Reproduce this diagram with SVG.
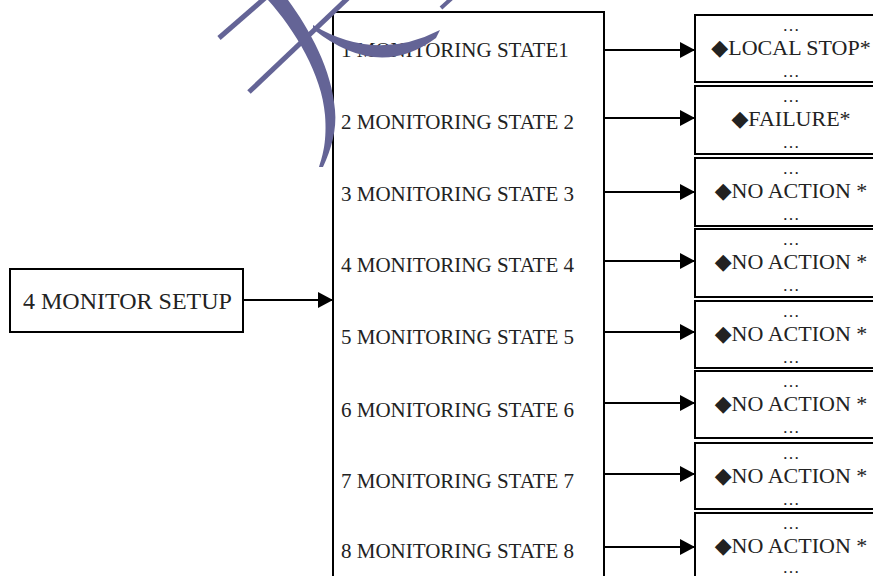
<svg xmlns="http://www.w3.org/2000/svg" width="873" height="576" viewBox="0 0 873 576">
<style>
.box{fill:#fff;stroke:#000;stroke-width:2}
text{font-family:'Liberation Serif','DejaVu Serif',serif;fill:#222}
.lbl{font-size:21px}
.act{font-size:22px;text-anchor:middle}
.dot{font-size:17px;text-anchor:middle}
.con{stroke:#000;stroke-width:2;fill:none}
.wm{fill:#646496}
</style>
<defs>
<marker id="ah" markerWidth="15" markerHeight="16" refX="15" refY="8" orient="auto" markerUnits="userSpaceOnUse">
<path d="M0,0 L15,8 L0,16 Z" fill="#000"/>
</marker>
</defs>
<rect width="873" height="576" fill="#fff"/>

<g id="setup">
<rect class="box" x="10" y="269" width="233" height="63" stroke-width="1.5"/>
<text x="23" y="309" font-size="24">4 MONITOR SETUP</text>
</g>

<g id="states">
<rect class="box" x="333" y="12" width="271" height="580"/>
<text class="lbl" x="341" y="57">1 MONITORING STATE1</text>
<text class="lbl" x="341" y="129">2 MONITORING STATE 2</text>
<text class="lbl" x="341" y="201">3 MONITORING STATE 3</text>
<text class="lbl" x="341" y="272">4 MONITORING STATE 4</text>
<text class="lbl" x="341" y="344">5 MONITORING STATE 5</text>
<text class="lbl" x="341" y="417">6 MONITORING STATE 6</text>
<text class="lbl" x="341" y="488">7 MONITORING STATE 7</text>
<text class="lbl" x="341" y="558">8 MONITORING STATE 8</text>
</g>

<g id="action1">
<rect class="box" x="695" y="15" width="200" height="67"/>
<text class="dot" x="791" y="31">…</text><text class="act" x="791" y="55">◆LOCAL STOP*</text><text class="dot" x="791" y="77">…</text>
</g>
<g id="action2">
<rect class="box" x="695" y="86" width="200" height="68"/>
<text class="dot" x="791" y="102">…</text><text class="act" x="791" y="126">◆FAILURE*</text><text class="dot" x="791" y="148">…</text>
</g>
<g id="action3">
<rect class="box" x="695" y="158" width="200" height="68"/>
<text class="dot" x="791" y="174">…</text><text class="act" x="791" y="198">◆NO ACTION *</text><text class="dot" x="791" y="220">…</text>
</g>
<g id="action4">
<rect class="box" x="695" y="229" width="200" height="68"/>
<text class="dot" x="791" y="245">…</text><text class="act" x="791" y="269">◆NO ACTION *</text><text class="dot" x="791" y="291">…</text>
</g>
<g id="action5">
<rect class="box" x="695" y="301" width="200" height="67"/>
<text class="dot" x="791" y="317">…</text><text class="act" x="791" y="341">◆NO ACTION *</text><text class="dot" x="791" y="363">…</text>
</g>
<g id="action6">
<rect class="box" x="695" y="371" width="200" height="67"/>
<text class="dot" x="791" y="387">…</text><text class="act" x="791" y="411">◆NO ACTION *</text><text class="dot" x="791" y="433">…</text>
</g>
<g id="action7">
<rect class="box" x="695" y="443" width="200" height="66"/>
<text class="dot" x="791" y="459">…</text><text class="act" x="791" y="483">◆NO ACTION *</text><text class="dot" x="791" y="505">…</text>
</g>
<g id="action8">
<rect class="box" x="695" y="513" width="200" height="80"/>
<text class="dot" x="791" y="529">…</text><text class="act" x="791" y="553">◆NO ACTION *</text><text class="dot" x="791" y="573">…</text>
</g>

<g id="connectors">
<line class="con" x1="243" y1="300" x2="333" y2="300" marker-end="url(#ah)"/>
<line class="con" x1="604" y1="50" x2="695" y2="50" marker-end="url(#ah)"/>
<line class="con" x1="604" y1="118" x2="695" y2="118" marker-end="url(#ah)"/>
<line class="con" x1="604" y1="192" x2="695" y2="192" marker-end="url(#ah)"/>
<line class="con" x1="604" y1="261" x2="695" y2="261" marker-end="url(#ah)"/>
<line class="con" x1="604" y1="332" x2="695" y2="332" marker-end="url(#ah)"/>
<line class="con" x1="604" y1="403" x2="695" y2="403" marker-end="url(#ah)"/>
<line class="con" x1="604" y1="474" x2="695" y2="474" marker-end="url(#ah)"/>
<line class="con" x1="604" y1="547" x2="695" y2="547" marker-end="url(#ah)"/>
</g>

<g id="watermark">
<line x1="219" y1="38" x2="265" y2="-2" stroke="#646496" stroke-width="5"/>
<line x1="249" y1="92" x2="348" y2="-2" stroke="#646496" stroke-width="5"/>
<path class="wm" d="M268,0 C295,30 322,75 325,115 C327,140 323,155 319,167 L323,167 C331,150 337,130 335,110 C332,70 310,30 288,0 Z"/>
<path class="wm" d="M313,25 Q376,63 440,30 L436,38 Q378,81 313,29 Z"/>
<line x1="441" y1="8" x2="452" y2="-2" stroke="#646496" stroke-width="4"/>
</g>
</svg>
